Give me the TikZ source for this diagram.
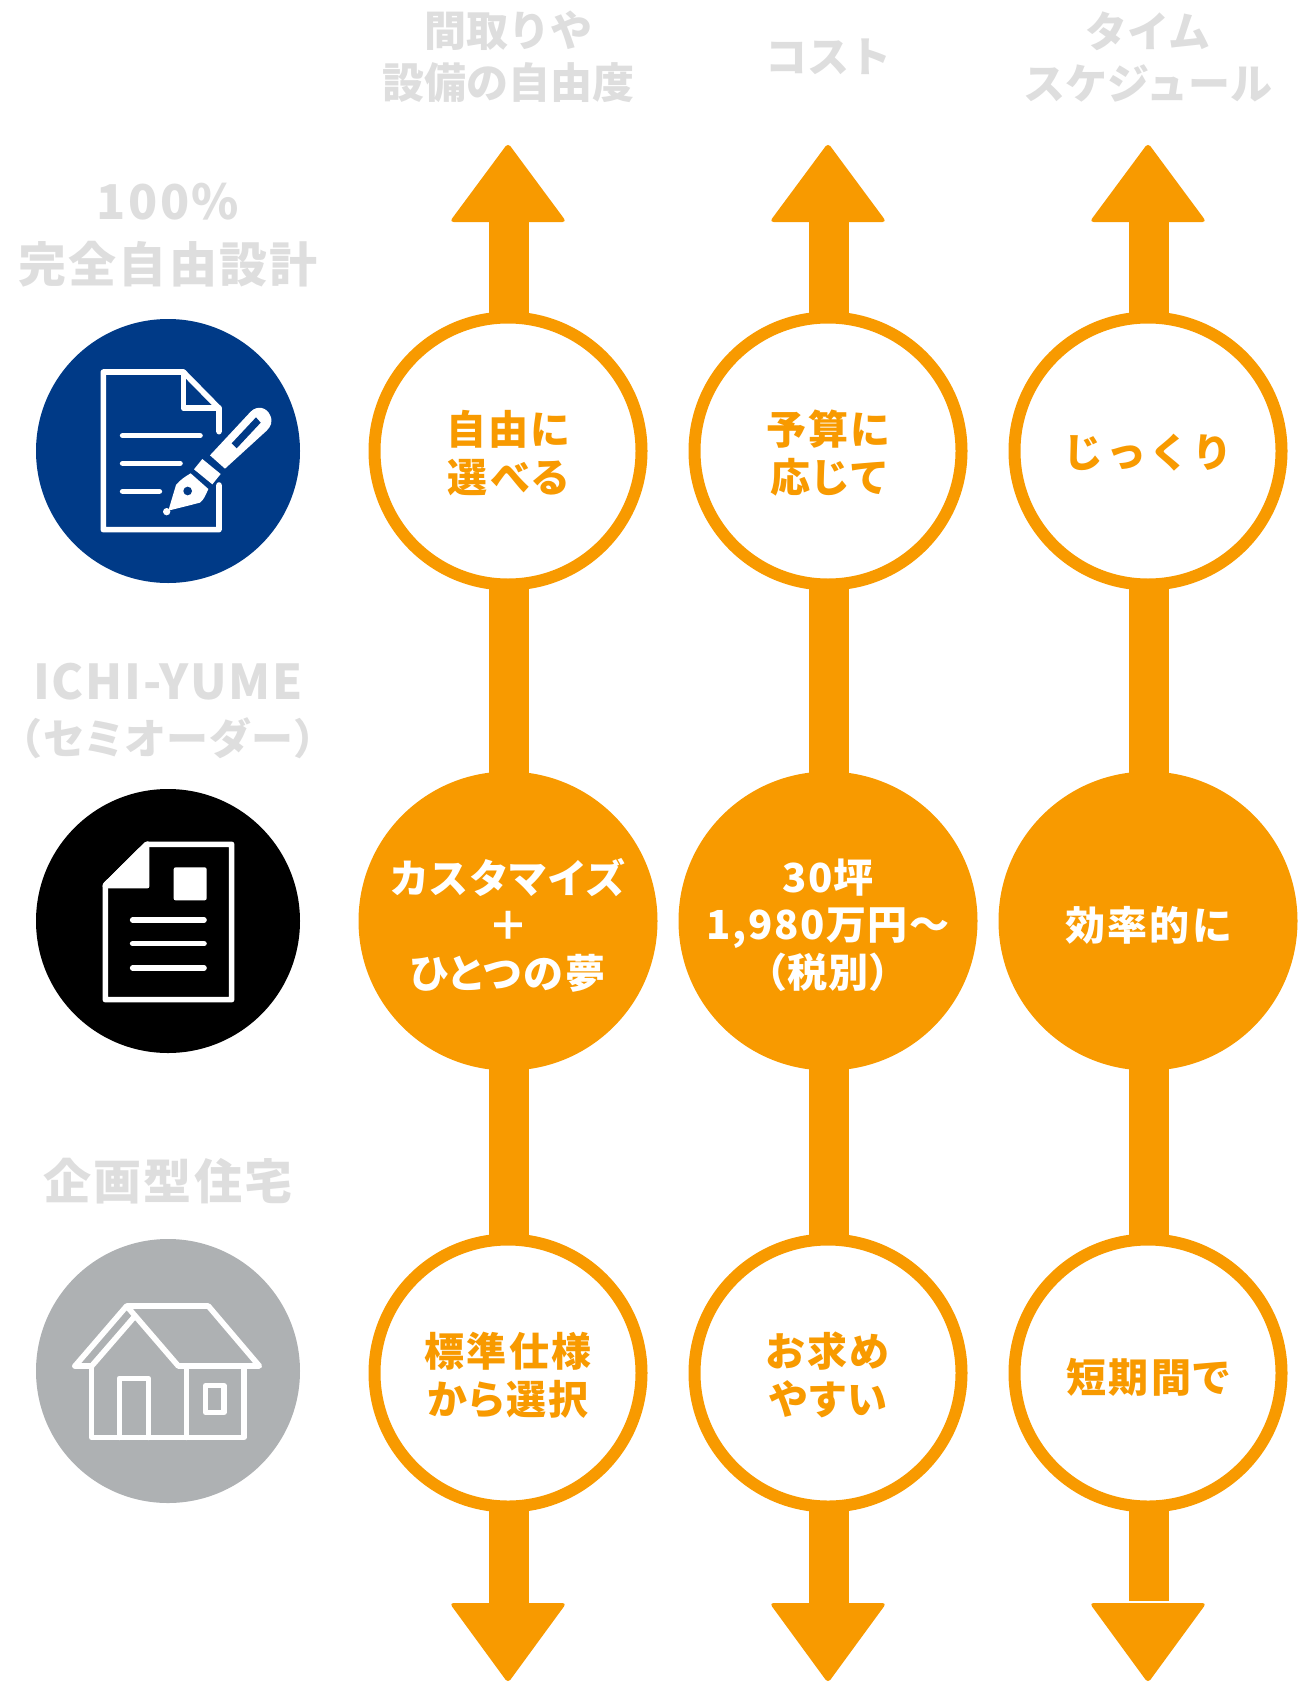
\documentclass[tikz,border=0pt]{standalone}
\usepackage{fontspec}
\setmainfont{Noto Sans CJK JP}[RawFeature=+palt,LetterSpace=6]
\newfontfamily\sidefont{Noto Sans CJK JP}[RawFeature=+palt,LetterSpace=4]
\newfontfamily\subfont{Noto Sans CJK JP}[RawFeature=+palt,LetterSpace=5]
\newfontfamily\topfont{Noto Sans CJK JP}
\newfontfamily\widefont{Noto Sans CJK JP}[LetterSpace=7]
\usetikzlibrary{backgrounds}
\definecolor{orng}{HTML}{F89A00}
\definecolor{lbl}{HTML}{DEDEDE}
\definecolor{navy}{HTML}{003A87}
\definecolor{grayc}{HTML}{AEB1B3}
\tikzset{
  ringc/.style={circle,draw=orng,line width=12pt,fill=white,minimum size=267pt,inner sep=0pt},
  solidc/.style={circle,fill=orng,minimum size=299pt,inner sep=0pt},
  ringt/.style={text=orng,align=center,inner sep=0pt,font=\bfseries\fontsize{40}{48}\selectfont},
  solidt/.style={text=white,align=center,inner sep=0pt,font=\bfseries\fontsize{40}{47.5}\selectfont},
  iconc/.style={circle,minimum size=264pt,inner sep=0pt},
  toplbl/.style={text=lbl,align=center,inner sep=0pt,font=\topfont\bfseries\fontsize{42}{52}\selectfont},
  sidelbl/.style={text=lbl,align=center,inner sep=0pt,font=\subfont\bfseries\fontsize{48}{63}\selectfont},
  shaft/.style={draw=orng,line width=40pt},
  head/.style={fill=orng,rounded corners=4pt},
  ic/.style={draw=white,line width=5.6pt,line cap=round,line join=round},
}
\begin{document}
\begin{tikzpicture}[x=1pt,y=-1pt]
\useasboundingbox (0,0) rectangle (1298,1683);
% side labels
\node[sidelbl] (s1) at (168,235) {100\%\\完全自由設計};
\node[sidelbl,font=\sidefont\bfseries\fontsize{48}{55}\selectfont] (s2) at (168,711) {ICHI-YUME\\{\subfont\bfseries\fontsize{42}{50}\selectfont （セミオーダー）}};
\node[sidelbl] (s3) at (168,1181) {企画型住宅};
% top labels
\node[toplbl] (t1) at (508,57) {間取りや\\設備の自由度};
\node[toplbl] (t2) at (828,57) {コスト};
\node[toplbl] (t3) at (1148,57) {タイム\\スケジュール};
% icon discs
\node[iconc,fill=navy] (i1) at (168,451) {};
\node[iconc,fill=black] (i2) at (168,921) {};
\node[iconc,fill=grayc] (i3) at (168,1371) {};
% circles
\node[ringc] (a1) at (508,451) {};
\node[ringc] (b1) at (828,451) {};
\node[ringc] (c1) at (1148,451) {};
\node[solidc] (a2) at (508,921) {};
\node[solidc] (b2) at (828,921) {};
\node[solidc] (c2) at (1148,921) {};
\node[ringc] (a3) at (508,1373) {};
\node[ringc] (b3) at (828,1373) {};
\node[ringc] (c3) at (1148,1373) {};
% circle texts
\node[ringt] (a1t) at (508,453) {自由に\\選べる};
\node[ringt] (b1t) at (828,453) {予算に\\応じて};
\node[ringt,font=\widefont\bfseries\fontsize{40}{48}\selectfont] (c1t) at (1148,453) {じっくり};
\node[solidt] (a2t) at (508,925) {カスタマイズ\\＋\\ひとつの夢};
\node[solidt,font=\sidefont\bfseries\fontsize{40}{47.5}\selectfont] (b2t) at (828,925) {30坪\\1,980万円～\\（税別）};
\node[solidt] (c2t) at (1148,925) {効率的に};
\node[ringt] (a3t) at (508,1375) {標準仕様\\から選択};
\node[ringt] (b3t) at (828,1375) {お求め\\やすい};
\node[ringt] (c3t) at (1148,1377) {短期間で};
% arrow ends
\coordinate (au) at (509,222); \coordinate (bu) at (829,222); \coordinate (cu) at (1149,222);
\coordinate (ad) at (509,1603); \coordinate (bd) at (829,1603); \coordinate (cd) at (1149,1600.7);
\coordinate (a1s) at (509,451); \coordinate (b1s) at (829,451); \coordinate (c1s) at (1149,451);
\coordinate (a3s) at (509,1373); \coordinate (b3s) at (829,1373); \coordinate (c3s) at (1149,1373);
\begin{scope}[on background layer]
\foreach \p in {a,b,c}{
  \draw[shaft] (\p u) -- (\p 1s);
  \draw[shaft] (\p 1s) -- (\p 3s);
  \draw[shaft] (\p 3s) -- (\p d);
}
\end{scope}
\foreach \x in {508,828,1148}{
  \fill[head] (\x,222) -- (\x+58.5,222) -- (\x,143) -- (\x-58.5,222) -- cycle;
  \fill[head] (\x,1603) -- (\x+58.5,1603) -- (\x,1683) -- (\x-58.5,1603) -- cycle;
}
% icon 1
\begin{scope}[shift={(20,300)},scale=1/3]
\draw[ic] (597,395) -- (597,325) -- (490,216) -- (250,216) -- (250,689) -- (597,689) -- (597,555);
\draw[ic] (490,216) -- (490,324) -- (597,324);
\draw[ic] (308,407) -- (540,407);
\draw[ic] (308,490) -- (480,490);
\draw[ic] (308,574) -- (418,574);
\fill[white] (570,466) -- (692,335) .. controls (712,315) and (740,322) .. (750,345) .. controls (760,365) and (752,380) .. (740,392) -- (615,506) -- cycle;
\fill[navy] (635,430) -- (708,352) -- (722,368) -- (650,445) -- cycle;
\fill[white] (547,477) -- (602,522) -- (577,553) -- (522,508) -- cycle;
\fill[white] (512,520) -- (565,567) .. controls (555,590) and (550,600) .. (540,608) -- (445,632) -- (468,555) .. controls (480,540) and (495,530) .. (512,520) -- cycle;
\fill[white] (440,635) circle[radius=11];
\fill[navy] (503,573) circle[radius=13];
\end{scope}
% icon 2
\begin{scope}[shift={(20,780)},scale=1/3]
\draw[ic] (380,193) -- (635,193) -- (635,659) -- (256,659) -- (256,316) -- cycle;
\fill[white,rounded corners=2pt] (378,184) -- (248,312) -- (248,325) -- (388,325) -- (388,184) -- cycle;
\fill[white,rounded corners=2pt] (461,262) rectangle (560,361);
\draw[ic] (338,420) -- (552,420);
\draw[ic] (338,491) -- (552,491);
\draw[ic] (338,564) -- (552,564);
\end{scope}
% icon 3
\begin{scope}[shift={(20,1230)},scale=1/3]
\draw[ic] (165,408) -- (320,228) -- (565,228) -- (718,408) -- (475,408) -- (320,228);
\draw[ic] (165,408) -- (215,408) -- (345,258);
\draw[ic] (215,408) -- (215,622) -- (672,622) -- (672,408);
\draw[ic] (500,408) -- (500,622);
\draw[ic] (298,622) -- (298,445) -- (385,445) -- (385,622);
\draw[ic] (557,467) rectangle (612,547);
\end{scope}
\end{tikzpicture}
\end{document}
